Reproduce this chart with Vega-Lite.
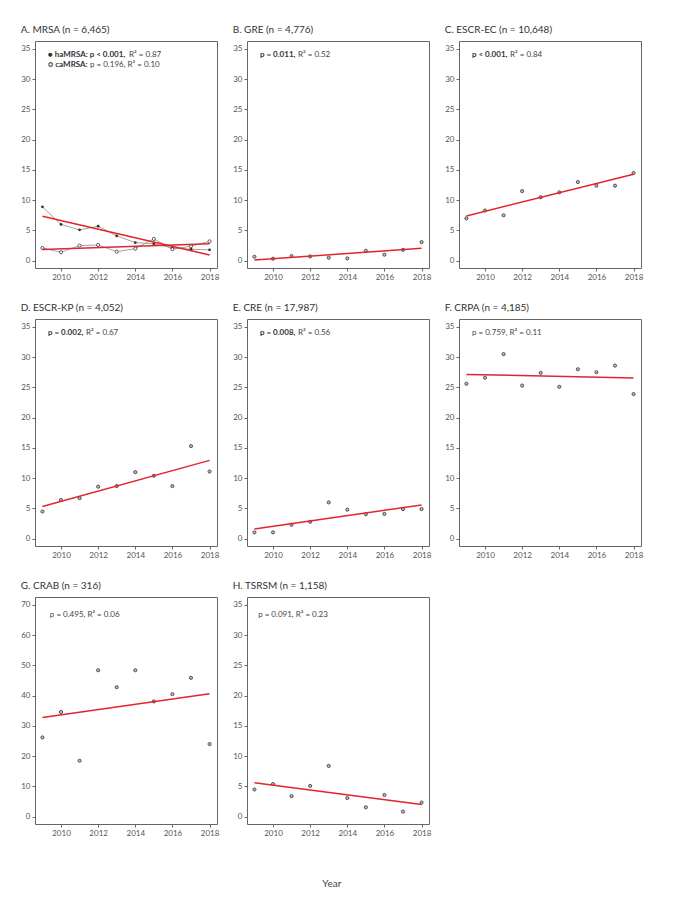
{
  "$schema": "https://vega.github.io/schema/vega-lite/v6.json",
  "padding": {"left": 20, "top": 24, "right": 5, "bottom": 5},
  "background": "white",
  "datasets": {
    "A": [
      {"year": 2009, "value": 8.9, "group": "haMRSA"}, {"year": 2010, "value": 6.0, "group": "haMRSA"},
      {"year": 2011, "value": 5.1, "group": "haMRSA"}, {"year": 2012, "value": 5.7, "group": "haMRSA"},
      {"year": 2013, "value": 4.1, "group": "haMRSA"}, {"year": 2014, "value": 3.0, "group": "haMRSA"},
      {"year": 2015, "value": 2.8, "group": "haMRSA"}, {"year": 2016, "value": 2.1, "group": "haMRSA"},
      {"year": 2017, "value": 1.9, "group": "haMRSA"}, {"year": 2018, "value": 1.8, "group": "haMRSA"},
      {"year": 2009, "value": 2.1, "group": "caMRSA"}, {"year": 2010, "value": 1.4, "group": "caMRSA"},
      {"year": 2011, "value": 2.5, "group": "caMRSA"}, {"year": 2012, "value": 2.6, "group": "caMRSA"},
      {"year": 2013, "value": 1.5, "group": "caMRSA"}, {"year": 2014, "value": 2.0, "group": "caMRSA"},
      {"year": 2015, "value": 3.6, "group": "caMRSA"}, {"year": 2016, "value": 1.9, "group": "caMRSA"},
      {"year": 2017, "value": 2.4, "group": "caMRSA"}, {"year": 2018, "value": 3.2, "group": "caMRSA"}
    ],
    "B": [
      {"year": 2009, "value": 0.66}, {"year": 2010, "value": 0.33}, {"year": 2011, "value": 0.77},
      {"year": 2012, "value": 0.71}, {"year": 2013, "value": 0.5}, {"year": 2014, "value": 0.38},
      {"year": 2015, "value": 1.65}, {"year": 2016, "value": 1.0}, {"year": 2017, "value": 1.8},
      {"year": 2018, "value": 3.07}
    ],
    "C": [
      {"year": 2009, "value": 7.0}, {"year": 2010, "value": 8.3}, {"year": 2011, "value": 7.5},
      {"year": 2012, "value": 11.5}, {"year": 2013, "value": 10.5}, {"year": 2014, "value": 11.3},
      {"year": 2015, "value": 13.0}, {"year": 2016, "value": 12.4}, {"year": 2017, "value": 12.4},
      {"year": 2018, "value": 14.5}
    ],
    "D": [
      {"year": 2009, "value": 4.5}, {"year": 2010, "value": 6.4}, {"year": 2011, "value": 6.7},
      {"year": 2012, "value": 8.6}, {"year": 2013, "value": 8.7}, {"year": 2014, "value": 11.0},
      {"year": 2015, "value": 10.4}, {"year": 2016, "value": 8.7}, {"year": 2017, "value": 15.3},
      {"year": 2018, "value": 11.1}
    ],
    "E": [
      {"year": 2009, "value": 1.05}, {"year": 2010, "value": 1.05}, {"year": 2011, "value": 2.3},
      {"year": 2012, "value": 2.8}, {"year": 2013, "value": 6.0}, {"year": 2014, "value": 4.8},
      {"year": 2015, "value": 4.05}, {"year": 2016, "value": 4.1}, {"year": 2017, "value": 4.9},
      {"year": 2018, "value": 4.9}
    ],
    "F": [
      {"year": 2009, "value": 25.6}, {"year": 2010, "value": 26.6}, {"year": 2011, "value": 30.5},
      {"year": 2012, "value": 25.3}, {"year": 2013, "value": 27.4}, {"year": 2014, "value": 25.1},
      {"year": 2015, "value": 28.0}, {"year": 2016, "value": 27.5}, {"year": 2017, "value": 28.6},
      {"year": 2018, "value": 23.9}
    ],
    "G": [
      {"year": 2009, "value": 26.2}, {"year": 2010, "value": 34.6}, {"year": 2011, "value": 18.5},
      {"year": 2012, "value": 48.4}, {"year": 2013, "value": 42.8}, {"year": 2014, "value": 48.4},
      {"year": 2015, "value": 38.1}, {"year": 2016, "value": 40.5}, {"year": 2017, "value": 45.9},
      {"year": 2018, "value": 24.0}
    ],
    "H": [
      {"year": 2009, "value": 4.5}, {"year": 2010, "value": 5.4}, {"year": 2011, "value": 3.4},
      {"year": 2012, "value": 5.1}, {"year": 2013, "value": 8.4}, {"year": 2014, "value": 3.1},
      {"year": 2015, "value": 1.55}, {"year": 2016, "value": 3.6}, {"year": 2017, "value": 0.85},
      {"year": 2018, "value": 2.35}
    ],
    "notes": [
      {"panel": "A1", "bold": "● haMRSA: p < 0.001,", "rest": "R² = 0.87"},
      {"panel": "A2", "bold": "○ caMRSA:", "rest": "p = 0.196, R² = 0.10"},
      {"panel": "B", "bold": "p = 0.011,", "rest": "R² = 0.52"},
      {"panel": "C", "bold": "p < 0.001,", "rest": "R² = 0.84"},
      {"panel": "D", "bold": "p = 0.002,", "rest": "R² = 0.67"},
      {"panel": "E", "bold": "p = 0.008,", "rest": "R² = 0.56"},
      {"panel": "F", "bold": "", "rest": "p = 0.759, R² = 0.11"},
      {"panel": "G", "bold": "", "rest": "p = 0.495, R² = 0.06"},
      {"panel": "H", "bold": "", "rest": "p = 0.091, R² = 0.23"}
    ]
  },
  "title": {"text": "Year", "orient": "bottom", "anchor": "middle", "fontSize": 10, "color": "#444", "fontWeight": "normal", "offset": 41},
  "columns": 3,
  "spacing": {"column": 12, "row": 20},
  "concat": [
    {
      "title": "A. MRSA (n = 6,465)",
      "width": 182, "height": 227,
      "layer": [
        {"data": {"name": "A"}, "mark": {"type": "line", "color": "#8a8a8a", "strokeWidth": 0.8},
         "encoding": {
          "x": {"field": "year", "type": "quantitative", "scale": {"domain": [2008.6, 2018.4], "nice": false, "zero": false}, "axis": {"values": [2010, 2012, 2014, 2016, 2018], "format": "d"}},
          "y": {"field": "value", "type": "quantitative", "scale": {"domain": [-1.2, 36.3], "nice": false}, "axis": {"values": [0, 5, 10, 15, 20, 25, 30, 35]}},
          "detail": {"field": "group"}}},
        {"data": {"name": "A"}, "transform": [{"filter": "datum.group == 'haMRSA'"}], "mark": {"type": "point", "shape": "circle", "size": 8, "filled": true, "color": "#333", "opacity": 1},
         "encoding": {"x": {"field": "year", "type": "quantitative", "axis": {"values": [2010, 2012, 2014, 2016, 2018], "format": "d"}}, "y": {"field": "value", "type": "quantitative", "axis": {"values": [0, 5, 10, 15, 20, 25, 30, 35]}}}},
        {"data": {"name": "A"}, "transform": [{"filter": "datum.group == 'caMRSA'"}], "mark": {"type": "point", "shape": "circle", "size": 10, "filled": true, "fill": "white", "stroke": "#333", "strokeWidth": 0.8, "opacity": 1},
         "encoding": {"x": {"field": "year", "type": "quantitative", "axis": {"values": [2010, 2012, 2014, 2016, 2018], "format": "d"}}, "y": {"field": "value", "type": "quantitative", "axis": {"values": [0, 5, 10, 15, 20, 25, 30, 35]}}}},
        {"data": {"name": "A"}, "transform": [{"regression": "value", "on": "year", "groupby": ["group"]}], "mark": {"type": "line", "color": "#e3242b", "strokeWidth": 1.5},
         "encoding": {"x": {"field": "year", "type": "quantitative", "axis": {"values": [2010, 2012, 2014, 2016, 2018], "format": "d"}}, "y": {"field": "value", "type": "quantitative", "axis": {"values": [0, 5, 10, 15, 20, 25, 30, 35]}}, "detail": {"field": "group"}}},
        {"data": {"name": "notes"}, "transform": [{"filter": "datum.panel == 'A1'"}], "mark": {"type": "text", "align": "left", "baseline": "middle", "fontSize": 8, "fontWeight": "bold", "color": "#333"}, "encoding": {"x": {"datum": 2009.3, "axis": {"values": [2010, 2012, 2014, 2016, 2018], "format": "d"}}, "y": {"datum": 34.0, "axis": {"values": [0, 5, 10, 15, 20, 25, 30, 35]}}, "text": {"field": "bold"}}},
        {"data": {"name": "notes"}, "transform": [{"filter": "datum.panel == 'A1'"}], "mark": {"type": "text", "align": "left", "baseline": "middle", "fontSize": 8, "dx": 81, "color": "#444"}, "encoding": {"x": {"datum": 2009.3, "axis": {"values": [2010, 2012, 2014, 2016, 2018], "format": "d"}}, "y": {"datum": 34.0, "axis": {"values": [0, 5, 10, 15, 20, 25, 30, 35]}}, "text": {"field": "rest"}}},
        {"data": {"name": "notes"}, "transform": [{"filter": "datum.panel == 'A2'"}], "mark": {"type": "text", "align": "left", "baseline": "middle", "fontSize": 8, "fontWeight": "bold", "color": "#333"}, "encoding": {"x": {"datum": 2009.3, "axis": {"values": [2010, 2012, 2014, 2016, 2018], "format": "d"}}, "y": {"datum": 32.3, "axis": {"values": [0, 5, 10, 15, 20, 25, 30, 35]}}, "text": {"field": "bold"}}},
        {"data": {"name": "notes"}, "transform": [{"filter": "datum.panel == 'A2'"}], "mark": {"type": "text", "align": "left", "baseline": "middle", "fontSize": 8, "dx": 42, "color": "#444"}, "encoding": {"x": {"datum": 2009.3, "axis": {"values": [2010, 2012, 2014, 2016, 2018], "format": "d"}}, "y": {"datum": 32.3, "axis": {"values": [0, 5, 10, 15, 20, 25, 30, 35]}}, "text": {"field": "rest"}}}
      ]
    },
    {
      "title": "B. GRE (n = 4,776)",
      "width": 182, "height": 227,
      "layer": [
        {"data": {"name": "B"}, "mark": {"type": "point", "shape": "circle", "size": 10, "filled": true, "fill": "#bbb", "stroke": "#333", "strokeWidth": 0.8, "opacity": 1},
         "encoding": {
          "x": {"field": "year", "type": "quantitative", "scale": {"domain": [2008.6, 2018.4], "nice": false, "zero": false}, "axis": {"values": [2010, 2012, 2014, 2016, 2018], "format": "d"}},
          "y": {"field": "value", "type": "quantitative", "scale": {"domain": [-1.2, 36.3], "nice": false}, "axis": {"values": [0, 5, 10, 15, 20, 25, 30, 35]}}}},
        {"data": {"name": "B"}, "transform": [{"regression": "value", "on": "year"}], "mark": {"type": "line", "color": "#e3242b", "strokeWidth": 1.5},
         "encoding": {"x": {"field": "year", "type": "quantitative", "axis": {"values": [2010, 2012, 2014, 2016, 2018], "format": "d"}}, "y": {"field": "value", "type": "quantitative", "axis": {"values": [0, 5, 10, 15, 20, 25, 30, 35]}}}},
        {"data": {"name": "notes"}, "transform": [{"filter": "datum.panel == 'B'"}], "mark": {"type": "text", "align": "left", "baseline": "middle", "fontSize": 8, "fontWeight": "bold", "color": "#333"}, "encoding": {"x": {"datum": 2009.3, "axis": {"values": [2010, 2012, 2014, 2016, 2018], "format": "d"}}, "y": {"datum": 34.0, "axis": {"values": [0, 5, 10, 15, 20, 25, 30, 35]}}, "text": {"field": "bold"}}},
        {"data": {"name": "notes"}, "transform": [{"filter": "datum.panel == 'B'"}], "mark": {"type": "text", "align": "left", "baseline": "middle", "fontSize": 8, "dx": 38, "color": "#444"}, "encoding": {"x": {"datum": 2009.3, "axis": {"values": [2010, 2012, 2014, 2016, 2018], "format": "d"}}, "y": {"datum": 34.0, "axis": {"values": [0, 5, 10, 15, 20, 25, 30, 35]}}, "text": {"field": "rest"}}}
      ]
    },
    {
      "title": "C. ESCR-EC (n = 10,648)",
      "width": 182, "height": 227,
      "layer": [
        {"data": {"name": "C"}, "mark": {"type": "point", "shape": "circle", "size": 10, "filled": true, "fill": "#bbb", "stroke": "#333", "strokeWidth": 0.8, "opacity": 1},
         "encoding": {
          "x": {"field": "year", "type": "quantitative", "scale": {"domain": [2008.6, 2018.4], "nice": false, "zero": false}, "axis": {"values": [2010, 2012, 2014, 2016, 2018], "format": "d"}},
          "y": {"field": "value", "type": "quantitative", "scale": {"domain": [-1.2, 36.3], "nice": false}, "axis": {"values": [0, 5, 10, 15, 20, 25, 30, 35]}}}},
        {"data": {"name": "C"}, "transform": [{"regression": "value", "on": "year"}], "mark": {"type": "line", "color": "#e3242b", "strokeWidth": 1.5},
         "encoding": {"x": {"field": "year", "type": "quantitative", "axis": {"values": [2010, 2012, 2014, 2016, 2018], "format": "d"}}, "y": {"field": "value", "type": "quantitative", "axis": {"values": [0, 5, 10, 15, 20, 25, 30, 35]}}}},
        {"data": {"name": "notes"}, "transform": [{"filter": "datum.panel == 'C'"}], "mark": {"type": "text", "align": "left", "baseline": "middle", "fontSize": 8, "fontWeight": "bold", "color": "#333"}, "encoding": {"x": {"datum": 2009.3, "axis": {"values": [2010, 2012, 2014, 2016, 2018], "format": "d"}}, "y": {"datum": 34.0, "axis": {"values": [0, 5, 10, 15, 20, 25, 30, 35]}}, "text": {"field": "bold"}}},
        {"data": {"name": "notes"}, "transform": [{"filter": "datum.panel == 'C'"}], "mark": {"type": "text", "align": "left", "baseline": "middle", "fontSize": 8, "dx": 38, "color": "#444"}, "encoding": {"x": {"datum": 2009.3, "axis": {"values": [2010, 2012, 2014, 2016, 2018], "format": "d"}}, "y": {"datum": 34.0, "axis": {"values": [0, 5, 10, 15, 20, 25, 30, 35]}}, "text": {"field": "rest"}}}
      ]
    },
    {
      "title": "D. ESCR-KP (n = 4,052)",
      "width": 182, "height": 227,
      "layer": [
        {"data": {"name": "D"}, "mark": {"type": "point", "shape": "circle", "size": 10, "filled": true, "fill": "#bbb", "stroke": "#333", "strokeWidth": 0.8, "opacity": 1},
         "encoding": {
          "x": {"field": "year", "type": "quantitative", "scale": {"domain": [2008.6, 2018.4], "nice": false, "zero": false}, "axis": {"values": [2010, 2012, 2014, 2016, 2018], "format": "d"}},
          "y": {"field": "value", "type": "quantitative", "scale": {"domain": [-1.2, 36.3], "nice": false}, "axis": {"values": [0, 5, 10, 15, 20, 25, 30, 35]}}}},
        {"data": {"name": "D"}, "transform": [{"regression": "value", "on": "year"}], "mark": {"type": "line", "color": "#e3242b", "strokeWidth": 1.5},
         "encoding": {"x": {"field": "year", "type": "quantitative", "axis": {"values": [2010, 2012, 2014, 2016, 2018], "format": "d"}}, "y": {"field": "value", "type": "quantitative", "axis": {"values": [0, 5, 10, 15, 20, 25, 30, 35]}}}},
        {"data": {"name": "notes"}, "transform": [{"filter": "datum.panel == 'D'"}], "mark": {"type": "text", "align": "left", "baseline": "middle", "fontSize": 8, "fontWeight": "bold", "color": "#333"}, "encoding": {"x": {"datum": 2009.3, "axis": {"values": [2010, 2012, 2014, 2016, 2018], "format": "d"}}, "y": {"datum": 34.0, "axis": {"values": [0, 5, 10, 15, 20, 25, 30, 35]}}, "text": {"field": "bold"}}},
        {"data": {"name": "notes"}, "transform": [{"filter": "datum.panel == 'D'"}], "mark": {"type": "text", "align": "left", "baseline": "middle", "fontSize": 8, "dx": 38, "color": "#444"}, "encoding": {"x": {"datum": 2009.3, "axis": {"values": [2010, 2012, 2014, 2016, 2018], "format": "d"}}, "y": {"datum": 34.0, "axis": {"values": [0, 5, 10, 15, 20, 25, 30, 35]}}, "text": {"field": "rest"}}}
      ]
    },
    {
      "title": "E. CRE (n = 17,987)",
      "width": 182, "height": 227,
      "layer": [
        {"data": {"name": "E"}, "mark": {"type": "point", "shape": "circle", "size": 10, "filled": true, "fill": "#bbb", "stroke": "#333", "strokeWidth": 0.8, "opacity": 1},
         "encoding": {
          "x": {"field": "year", "type": "quantitative", "scale": {"domain": [2008.6, 2018.4], "nice": false, "zero": false}, "axis": {"values": [2010, 2012, 2014, 2016, 2018], "format": "d"}},
          "y": {"field": "value", "type": "quantitative", "scale": {"domain": [-1.2, 36.3], "nice": false}, "axis": {"values": [0, 5, 10, 15, 20, 25, 30, 35]}}}},
        {"data": {"name": "E"}, "transform": [{"regression": "value", "on": "year"}], "mark": {"type": "line", "color": "#e3242b", "strokeWidth": 1.5},
         "encoding": {"x": {"field": "year", "type": "quantitative", "axis": {"values": [2010, 2012, 2014, 2016, 2018], "format": "d"}}, "y": {"field": "value", "type": "quantitative", "axis": {"values": [0, 5, 10, 15, 20, 25, 30, 35]}}}},
        {"data": {"name": "notes"}, "transform": [{"filter": "datum.panel == 'E'"}], "mark": {"type": "text", "align": "left", "baseline": "middle", "fontSize": 8, "fontWeight": "bold", "color": "#333"}, "encoding": {"x": {"datum": 2009.3, "axis": {"values": [2010, 2012, 2014, 2016, 2018], "format": "d"}}, "y": {"datum": 34.0, "axis": {"values": [0, 5, 10, 15, 20, 25, 30, 35]}}, "text": {"field": "bold"}}},
        {"data": {"name": "notes"}, "transform": [{"filter": "datum.panel == 'E'"}], "mark": {"type": "text", "align": "left", "baseline": "middle", "fontSize": 8, "dx": 38, "color": "#444"}, "encoding": {"x": {"datum": 2009.3, "axis": {"values": [2010, 2012, 2014, 2016, 2018], "format": "d"}}, "y": {"datum": 34.0, "axis": {"values": [0, 5, 10, 15, 20, 25, 30, 35]}}, "text": {"field": "rest"}}}
      ]
    },
    {
      "title": "F. CRPA (n = 4,185)",
      "width": 182, "height": 227,
      "layer": [
        {"data": {"name": "F"}, "mark": {"type": "point", "shape": "circle", "size": 10, "filled": true, "fill": "#bbb", "stroke": "#333", "strokeWidth": 0.8, "opacity": 1},
         "encoding": {
          "x": {"field": "year", "type": "quantitative", "scale": {"domain": [2008.6, 2018.4], "nice": false, "zero": false}, "axis": {"values": [2010, 2012, 2014, 2016, 2018], "format": "d"}},
          "y": {"field": "value", "type": "quantitative", "scale": {"domain": [-1.2, 36.3], "nice": false}, "axis": {"values": [0, 5, 10, 15, 20, 25, 30, 35]}}}},
        {"data": {"name": "F"}, "transform": [{"regression": "value", "on": "year"}], "mark": {"type": "line", "color": "#e3242b", "strokeWidth": 1.5},
         "encoding": {"x": {"field": "year", "type": "quantitative", "axis": {"values": [2010, 2012, 2014, 2016, 2018], "format": "d"}}, "y": {"field": "value", "type": "quantitative", "axis": {"values": [0, 5, 10, 15, 20, 25, 30, 35]}}}},
        {"data": {"name": "notes"}, "transform": [{"filter": "datum.panel == 'F'"}], "mark": {"type": "text", "align": "left", "baseline": "middle", "fontSize": 8, "color": "#444"}, "encoding": {"x": {"datum": 2009.3, "axis": {"values": [2010, 2012, 2014, 2016, 2018], "format": "d"}}, "y": {"datum": 34.0, "axis": {"values": [0, 5, 10, 15, 20, 25, 30, 35]}}, "text": {"field": "rest"}}}
      ]
    },
    {
      "title": "G. CRAB (n = 316)",
      "width": 182, "height": 227,
      "layer": [
        {"data": {"name": "G"}, "mark": {"type": "point", "shape": "circle", "size": 10, "filled": true, "fill": "#bbb", "stroke": "#333", "strokeWidth": 0.8, "opacity": 1},
         "encoding": {
          "x": {"field": "year", "type": "quantitative", "scale": {"domain": [2008.6, 2018.4], "nice": false, "zero": false}, "axis": {"values": [2010, 2012, 2014, 2016, 2018], "format": "d"}},
          "y": {"field": "value", "type": "quantitative", "scale": {"domain": [-2.4, 72.6], "nice": false}, "axis": {"values": [0, 10, 20, 30, 40, 50, 60, 70]}}}},
        {"data": {"name": "G"}, "transform": [{"regression": "value", "on": "year"}], "mark": {"type": "line", "color": "#e3242b", "strokeWidth": 1.5},
         "encoding": {"x": {"field": "year", "type": "quantitative", "axis": {"values": [2010, 2012, 2014, 2016, 2018], "format": "d"}}, "y": {"field": "value", "type": "quantitative", "axis": {"values": [0, 10, 20, 30, 40, 50, 60, 70]}}}},
        {"data": {"name": "notes"}, "transform": [{"filter": "datum.panel == 'G'"}], "mark": {"type": "text", "align": "left", "baseline": "middle", "fontSize": 8, "color": "#444"}, "encoding": {"x": {"datum": 2009.4, "axis": {"values": [2010, 2012, 2014, 2016, 2018], "format": "d"}}, "y": {"datum": 66.5, "axis": {"values": [0, 10, 20, 30, 40, 50, 60, 70]}}, "text": {"field": "rest"}}}
      ]
    },
    {
      "title": "H. TSRSM (n = 1,158)",
      "width": 182, "height": 227,
      "layer": [
        {"data": {"name": "H"}, "mark": {"type": "point", "shape": "circle", "size": 10, "filled": true, "fill": "#bbb", "stroke": "#333", "strokeWidth": 0.8, "opacity": 1},
         "encoding": {
          "x": {"field": "year", "type": "quantitative", "scale": {"domain": [2008.6, 2018.4], "nice": false, "zero": false}, "axis": {"values": [2010, 2012, 2014, 2016, 2018], "format": "d"}},
          "y": {"field": "value", "type": "quantitative", "scale": {"domain": [-1.2, 36.3], "nice": false}, "axis": {"values": [0, 5, 10, 15, 20, 25, 30, 35]}}}},
        {"data": {"name": "H"}, "transform": [{"regression": "value", "on": "year"}], "mark": {"type": "line", "color": "#e3242b", "strokeWidth": 1.5},
         "encoding": {"x": {"field": "year", "type": "quantitative", "axis": {"values": [2010, 2012, 2014, 2016, 2018], "format": "d"}}, "y": {"field": "value", "type": "quantitative", "axis": {"values": [0, 5, 10, 15, 20, 25, 30, 35]}}}},
        {"data": {"name": "notes"}, "transform": [{"filter": "datum.panel == 'H'"}], "mark": {"type": "text", "align": "left", "baseline": "middle", "fontSize": 8, "color": "#444"}, "encoding": {"x": {"datum": 2009.2, "axis": {"values": [2010, 2012, 2014, 2016, 2018], "format": "d"}}, "y": {"datum": 33.3, "axis": {"values": [0, 5, 10, 15, 20, 25, 30, 35]}}, "text": {"field": "rest"}}}
      ]
    }
  ],
  "config": {
    "font": "Lato",
    "view": {"stroke": "#666", "strokeWidth": 1},
    "axis": {"grid": false, "domain": false, "tickColor": "#666", "tickSize": 3, "labelFontSize": 8, "labelColor": "#555", "labelPadding": 2, "title": null},
    "title": {"anchor": "start", "fontSize": 10, "fontWeight": "normal", "color": "#333", "offset": 6}
  }
}
